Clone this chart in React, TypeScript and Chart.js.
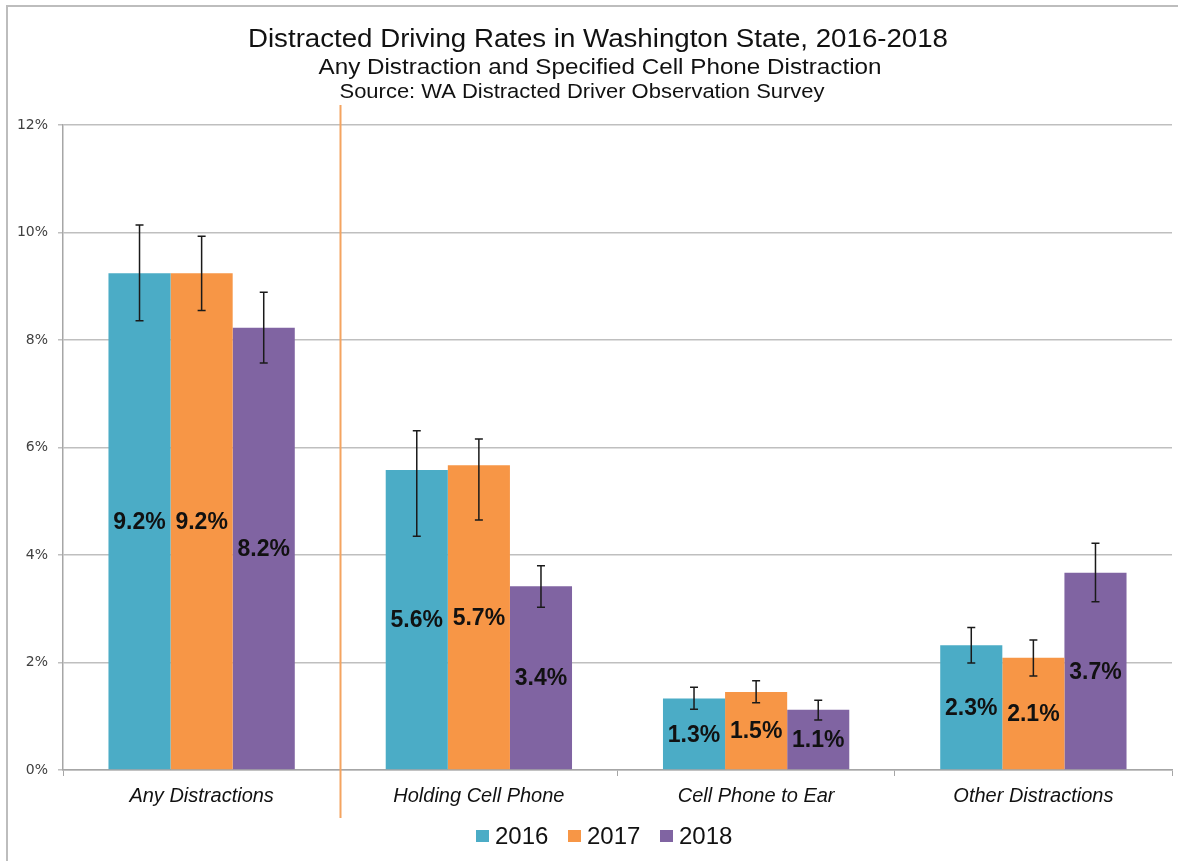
import { useEffect, useRef } from 'react';
import { Chart, registerables } from 'chart.js';

Chart.register(...registerables);

const categories = ['Any Distractions', 'Holding Cell Phone', 'Cell Phone to Ear', 'Other Distractions'];
const years = ['2016', '2017', '2018'];
const rate2016 = [9.24, 5.58, 1.33, 2.32];
const rate2017 = [9.24, 5.67, 1.45, 2.09];
const rate2018 = [8.23, 3.42, 1.12, 3.67];
const low2016 = [8.36, 4.35, 1.13, 1.99];
const high2016 = [10.14, 6.31, 1.54, 2.65];
const low2017 = [8.55, 4.65, 1.25, 1.75];
const high2017 = [9.93, 6.16, 1.66, 2.42];
const low2018 = [7.57, 3.03, 0.93, 3.13];
const high2018 = [8.89, 3.8, 1.3, 4.22];
const labels2016 = ['9.2%', '5.6%', '1.3%', '2.3%'];
const labels2017 = ['9.2%', '5.7%', '1.5%', '2.1%'];
const labels2018 = ['8.2%', '3.4%', '1.1%', '3.7%'];
const yTicks = [0, 2, 4, 6, 8, 10, 12];

const titleLines = [
  'Distracted Driving Rates in Washington State, 2016-2018',
  'Any Distraction and Specified Cell Phone Distraction',
  'Source: WA Distracted Driver Observation Survey',
];

const colors = ['#4BACC6', '#F79646', '#8064A2'];
const lows = [low2016, low2017, low2018];
const highs = [high2016, high2017, high2018];
const valueLabels = [labels2016, labels2017, labels2018];

const FONT = '"Liberation Sans", Arial, sans-serif';

function drawStretched(ctx: any, text: string, cx: number, baseline: number, font: string, targetW: number) {
  ctx.font = font;
  const w = ctx.measureText(text).width;
  ctx.save();
  ctx.translate(cx, baseline);
  ctx.scale(targetW / w, 1);
  ctx.textAlign = 'center';
  ctx.textBaseline = 'alphabetic';
  ctx.fillText(text, 0, 0);
  ctx.restore();
}

const decorPlugin = {
  id: 'decor',
  beforeDraw(chart: any) {
    const ctx = chart.ctx;
    ctx.save();
    ctx.fillStyle = '#ffffff';
    ctx.fillRect(0, 0, chart.width, chart.height);
    ctx.restore();
  },
  afterDatasetsDraw(chart: any) {
    const ctx = chart.ctx;
    const y = chart.scales.y;
    ctx.save();
    chart.data.datasets.forEach((_ds: any, di: number) => {
      const meta = chart.getDatasetMeta(di);
      meta.data.forEach((bar: any, i: number) => {
        const x = bar.x;
        const yl = y.getPixelForValue(lows[di][i]);
        const yh = y.getPixelForValue(highs[di][i]);
        ctx.strokeStyle = '#1a1a1a';
        ctx.lineWidth = 1.5;
        ctx.beginPath();
        ctx.moveTo(x, yl);
        ctx.lineTo(x, yh);
        ctx.moveTo(x - 4, yl);
        ctx.lineTo(x + 4, yl);
        ctx.moveTo(x - 4, yh);
        ctx.lineTo(x + 4, yh);
        ctx.stroke();
      });
    });
    chart.data.datasets.forEach((ds: any, di: number) => {
      const meta = chart.getDatasetMeta(di);
      meta.data.forEach((bar: any, i: number) => {
        const yc = (y.getPixelForValue(ds.data[i]) + y.getPixelForValue(0)) / 2;
        ctx.fillStyle = '#111111';
        ctx.font = 'bold 23px ' + FONT;
        ctx.textAlign = 'center';
        ctx.textBaseline = 'middle';
        ctx.fillText(valueLabels[di][i], bar.x, yc + 1);
      });
    });
    ctx.restore();
  },
  afterDraw(chart: any) {
    const ctx = chart.ctx;
    const xs = chart.scales.x;
    ctx.save();
    // outer border
    ctx.strokeStyle = '#BDBDBD';
    ctx.lineWidth = 2;
    ctx.beginPath();
    ctx.moveTo(7, chart.height);
    ctx.lineTo(7, 6);
    ctx.lineTo(chart.width, 6);
    ctx.stroke();
    // divider
    const dx = Math.round((xs.getPixelForValue(0) + xs.getPixelForValue(1)) / 2) + 0.5;
    ctx.strokeStyle = '#F4A460';
    ctx.lineWidth = 2;
    ctx.beginPath();
    ctx.moveTo(dx, 105);
    ctx.lineTo(dx, 818);
    ctx.stroke();
    // titles
    ctx.fillStyle = '#111111';
    drawStretched(ctx, titleLines[0], 598, 47, '26.5px ' + FONT, 700);
    drawStretched(ctx, titleLines[1], 600, 74, '22.5px ' + FONT, 563);
    drawStretched(ctx, titleLines[2], 582, 98, '20.5px ' + FONT, 485);
    // legend
    const legendX = [476, 568, 660];
    ctx.font = '24px ' + FONT;
    ctx.textAlign = 'left';
    ctx.textBaseline = 'alphabetic';
    years.forEach((yr, i) => {
      ctx.fillStyle = colors[i];
      ctx.fillRect(legendX[i], 830, 13, 12);
      ctx.fillStyle = '#111111';
      ctx.fillText(yr, legendX[i] + 19, 844);
    });
    ctx.restore();
  },
};

export default function App() {
  const ref = useRef<HTMLCanvasElement>(null);
  useEffect(() => {
    document.body.style.margin = '0';
    const chart = new Chart(ref.current as HTMLCanvasElement, {
      type: 'bar',
      data: {
        labels: categories,
        datasets: years.map((yr, i) => ({
          label: yr,
          data: [rate2016, rate2017, rate2018][i],
          backgroundColor: colors[i],
          borderWidth: 0,
          categoryPercentage: 0.672,
          barPercentage: 1,
        })),
      },
      options: {
        responsive: false,
        animation: false,
        events: [],
        layout: { padding: { left: 8, right: 6, top: 125, bottom: 51 } },
        plugins: {
          legend: { display: false },
          title: { display: false },
          tooltip: { enabled: false },
        },
        scales: {
          x: {
            afterFit: (s: any) => { s.height = 40; },
            grid: {
              offset: true,
              drawOnChartArea: false,
              color: '#A6A6A6',
              tickLength: 6,
            },
            border: { color: '#A6A6A6', width: 1.5 },
            ticks: {
              color: '#111111',
              font: { family: FONT, size: 20, style: 'italic' },
              padding: 8,
            },
          },
          y: {
            min: 0,
            max: 12,
            afterFit: (s: any) => { s.width = 55; },
            afterBuildTicks: (s: any) => { s.ticks = yTicks.map((v) => ({ value: v })); },
            grid: { color: '#BFBFBF', lineWidth: 1.5, tickLength: 5 },
            border: { color: '#A6A6A6', width: 1.5 },
            ticks: {
              color: '#404040',
              font: { family: '"DejaVu Sans", Verdana, sans-serif', size: 14 },
              padding: 10,
              callback: (v: any) => v + '%',
            },
          },
        },
      },
      plugins: [decorPlugin],
    });
    return () => chart.destroy();
  }, []);
  return (
    <div style={{ width: 1178, height: 861, background: '#fff' }}>
      <canvas ref={ref} width={1178} height={861} style={{ display: 'block', width: 1178, height: 861 }} />
    </div>
  );
}
